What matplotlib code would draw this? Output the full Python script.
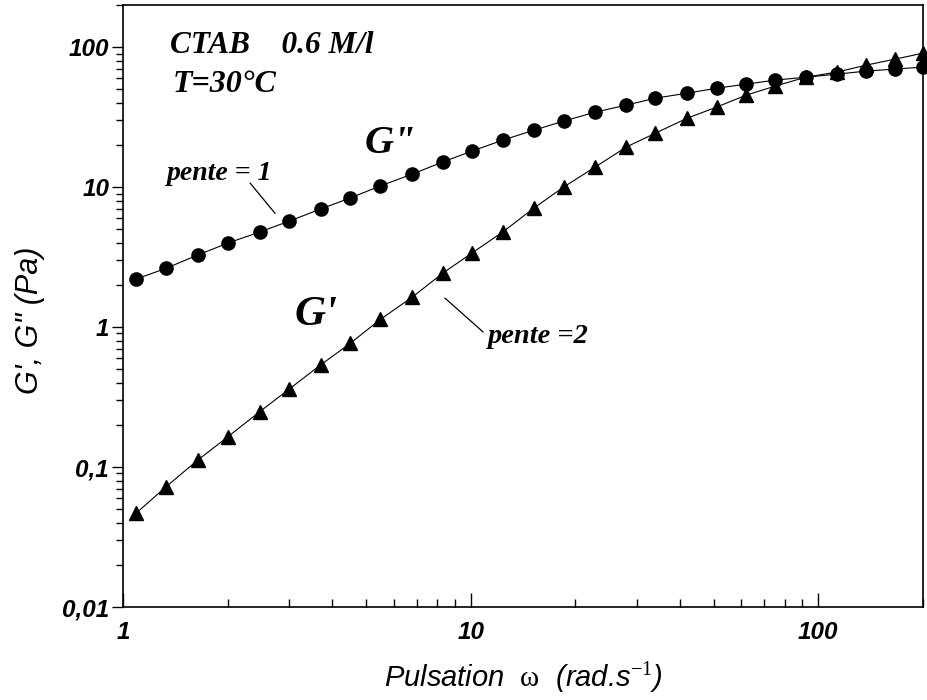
import numpy as np
import matplotlib
matplotlib.use('Agg')
from matplotlib import pyplot as plt
from matplotlib.ticker import FixedLocator, FixedFormatter, LogLocator, NullFormatter

# Data
omega = [1.09, 1.33, 1.64, 2.0, 2.47, 3.0, 3.7, 4.5, 5.5, 6.8, 8.3, 10.1, 12.4,
         15.2, 18.5, 22.8, 28, 34, 42, 51, 62, 75, 92, 113, 137, 166, 200]
G_loss = [2.2, 2.63, 3.27, 3.98, 4.77, 5.7, 6.97, 8.35, 10.2, 12.4, 15.1, 18.1,
          21.7, 25.5, 29.6, 34.3, 38.5, 43.2, 46.9, 50.9, 54.4, 58.1, 61, 64.1,
          67.4, 69.7, 72]
G_store = [0.0467, 0.0723, 0.112, 0.164, 0.248, 0.359, 0.536, 0.764, 1.135, 1.64,
           2.42, 3.39, 4.8, 7.08, 10, 13.9, 19.3, 24.3, 31.1, 37.3, 45.4, 52.6,
           61, 66.3, 74.3, 82, 90.6]
y_ticks = [0.01, 0.1, 1, 10, 100]
y_tick_labels = ['0,01', '0,1', '1', '10', '100']
x_ticks = [1, 10, 100]
x_tick_labels = ['1', '10', '100']

plt.rcParams['mathtext.fontset'] = 'custom'
plt.rcParams['mathtext.rm'] = 'Liberation Serif'
plt.rcParams['mathtext.it'] = 'Liberation Sans:italic'

fig = plt.figure(figsize=(9.27, 7), dpi=100)
ax = fig.add_axes([123 / 927, 93 / 700, 800 / 927, 602 / 700])

ax.plot(omega, G_loss, '-', color='k', lw=0.8, marker='o', ms=9.5, clip_on=False)
ax.plot(omega, G_store, '-', color='k', lw=0.8, marker='^', ms=10.5, clip_on=False)

ax.set_xscale('log')
ax.set_yscale('log')
ax.set_xlim(1, 200)
ax.set_ylim(0.01, 200)

sans_bi = dict(family='Liberation Sans', weight='bold', style='italic', size=17.5)
ax.yaxis.set_major_locator(FixedLocator(y_ticks))
ax.yaxis.set_major_formatter(FixedFormatter(y_tick_labels))
ax.xaxis.set_major_locator(FixedLocator(x_ticks))
ax.xaxis.set_major_formatter(FixedFormatter(x_tick_labels))
ax.yaxis.set_minor_locator(LogLocator(base=10, subs=np.arange(2, 10)))
ax.xaxis.set_minor_locator(LogLocator(base=10, subs=np.arange(2, 10)))
ax.yaxis.set_minor_formatter(NullFormatter())
ax.xaxis.set_minor_formatter(NullFormatter())
for lab in ax.get_xticklabels() + ax.get_yticklabels():
    lab.set(**sans_bi)

ax.tick_params(axis='y', which='major', direction='out', length=8, width=1, pad=2)
ax.tick_params(axis='y', which='minor', direction='out', length=5, width=1)
ax.tick_params(axis='x', which='major', direction='in', length=10, width=1, pad=10)
ax.tick_params(axis='x', which='minor', direction='in', length=6, width=1)
for s in ax.spines.values():
    s.set_linewidth(1.2)

ax.set_xlabel(r'Pulsation  $\mathrm{\omega}$  (rad.s$^{\mathit{-1}}$)',
              family='Liberation Sans', style='italic', size=21)
ax.xaxis.set_label_coords(0.5, -0.086)
ax.set_ylabel("G', G\" (Pa)", family='Liberation Sans', style='italic', size=22)
ax.yaxis.set_label_coords(-0.098, 0.477)

serif_bi = dict(family='Liberation Serif', weight='bold', style='italic',
                transform=ax.transAxes, va='baseline')
ax.text(0.059, 0.920, 'CTAB    0.6 M/l', size=22.5, **serif_bi)
ax.text(0.0625, 0.855, 'T=30°C', size=23, **serif_bi)
ax.text(0.3025, 0.754, 'G"', size=29, **serif_bi)
ax.text(0.215, 0.468, "G'", size=31, **serif_bi)
ax.text(0.055, 0.709, 'pente = 1', size=20, **serif_bi)
ax.text(0.455, 0.4385, 'pente =2', size=20.5, **serif_bi)
ax.plot([0.159, 0.19], [0.704, 0.654], color='k', lw=0.9, transform=ax.transAxes)
ax.plot([0.4025, 0.45], [0.513, 0.457], color='k', lw=0.9, transform=ax.transAxes)

plt.savefig('out.png', dpi=100)
